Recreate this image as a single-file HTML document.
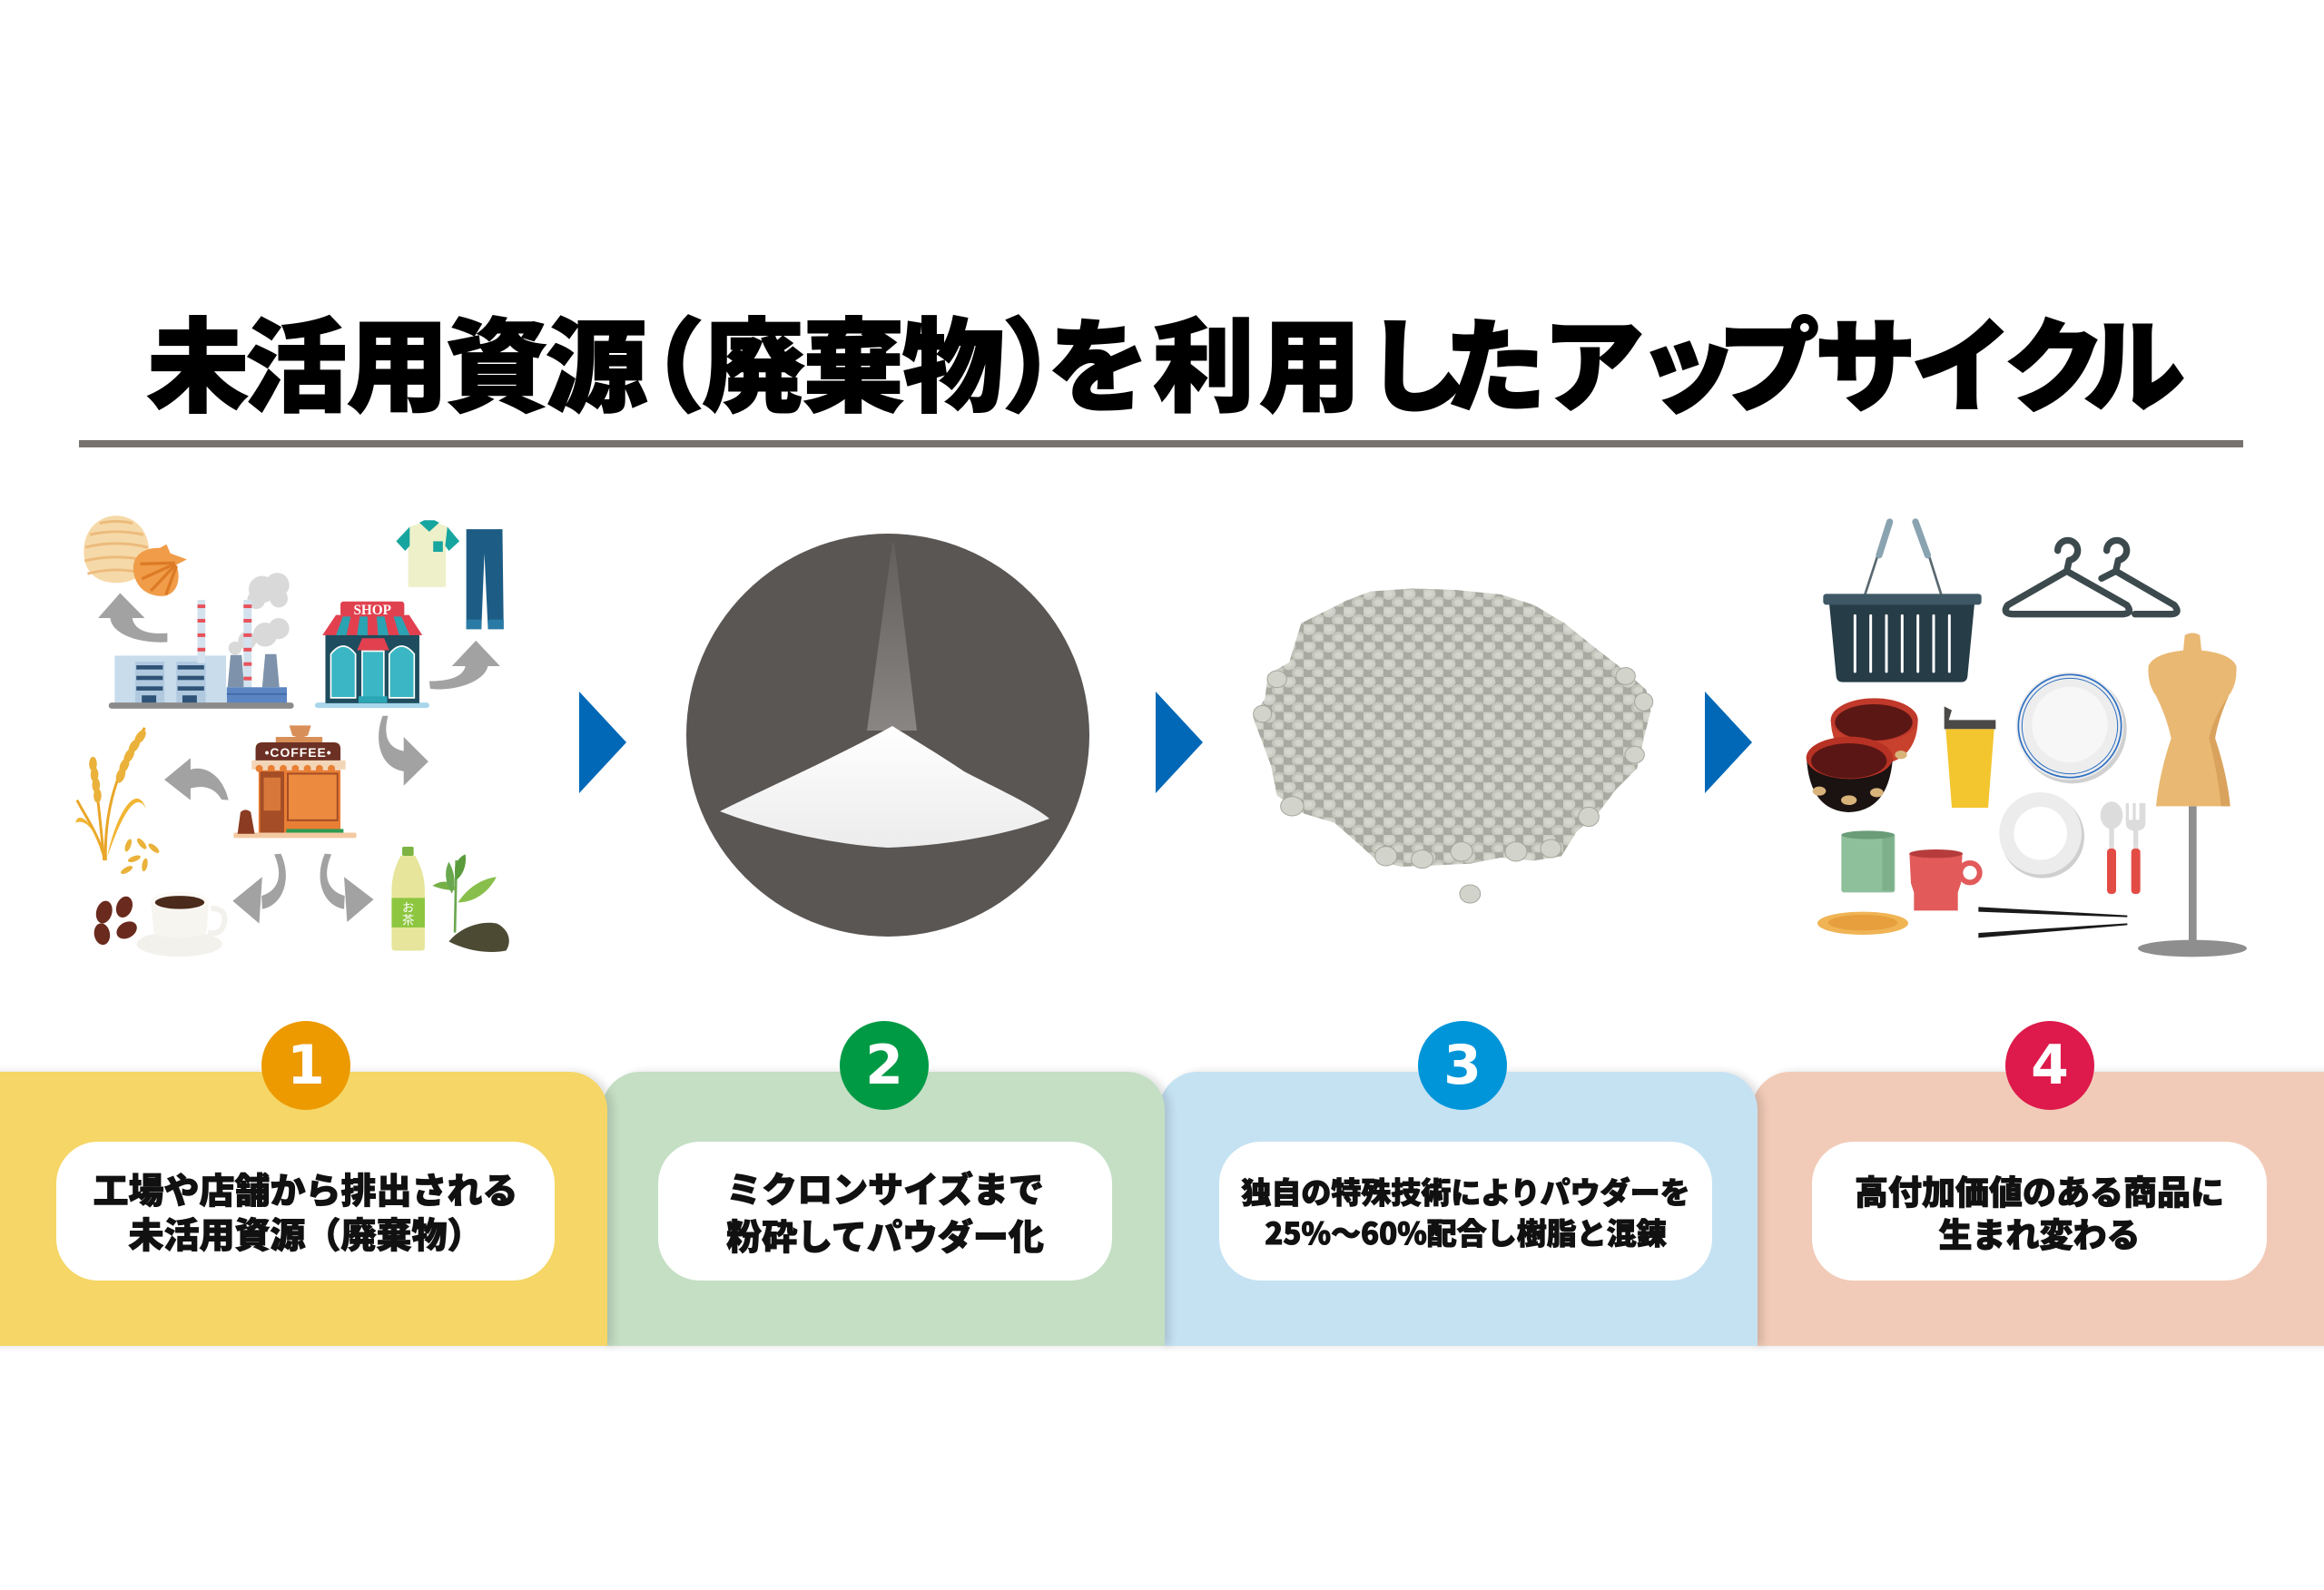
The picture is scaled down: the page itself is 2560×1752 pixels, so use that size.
<!DOCTYPE html>
<html lang="ja">
<head>
<meta charset="utf-8">
<style>
html,body{margin:0;padding:0;background:#fff;}
body{width:2560px;height:1752px;position:relative;overflow:hidden;font-family:"Liberation Sans","Noto Sans CJK JP",sans-serif;}
.abs{position:absolute;}
.title{position:absolute;left:162px;top:340px;font-size:112px;line-height:112px;white-space:nowrap;font-weight:900;color:#000;-webkit-text-stroke:2px #000;font-family:"Noto Sans CJK JP","Liberation Sans",sans-serif;}
.rule{position:absolute;left:87px;top:485px;width:2384px;height:8px;background:#77726e;}
.panel{position:absolute;top:1181px;height:302px;border-radius:42px 42px 0 0;box-shadow:6px 0 9px rgba(0,0,0,0.13);}
.badge{position:absolute;top:1125px;width:98px;height:98px;border-radius:50%;color:#fff;font-family:"DejaVu Sans","Liberation Sans",sans-serif;font-weight:bold;font-size:60px;line-height:98px;text-align:center;}
.pill{position:absolute;top:1258px;height:153px;background:#fff;border-radius:46px;display:flex;align-items:center;justify-content:center;text-align:center;font-family:"Noto Sans CJK JP","Liberation Sans",sans-serif;font-weight:900;color:#111;-webkit-text-stroke:1px #111;white-space:nowrap;}
.arrow{position:absolute;width:0;height:0;border-top:56px solid transparent;border-bottom:56px solid transparent;border-left:52px solid #0068b6;top:762px;}
</style>
</head>
<body>

<div class="title"><span style="letter-spacing:-4px">未</span><span style="letter-spacing:0px">活</span><span style="letter-spacing:-3px">用</span><span style="letter-spacing:-2px">資</span><span style="letter-spacing:-49px">源</span><span style="letter-spacing:-2px">（廃棄物</span><span style="letter-spacing:-62px">）</span><span style="letter-spacing:4px">を</span><span style="letter-spacing:5px">利用</span><span style="letter-spacing:-25px">し</span><span style="letter-spacing:-4px">た</span><span style="letter-spacing:-8px">ア</span><span style="letter-spacing:-23px">ッ</span><span style="letter-spacing:-5px">プ</span><span style="letter-spacing:-6px">サ</span><span style="letter-spacing:-10px">イ</span><span style="letter-spacing:-24px">ク</span><span>ル</span></div>
<div class="rule"></div>

<!-- Panel 1 illustration -->
<svg class="abs" style="left:60px;top:550px;overflow:visible" width="520" height="520" viewBox="0 0 1568 1568">
  <path d="M98,185 C92,100 150,55 205,55 C262,55 318,100 314,185 C310,250 262,278 205,278 C148,278 102,250 98,185Z" fill="#f6d9a8"/>
  <g stroke="#ecbb7c" stroke-width="9" fill="none">
    <path d="M150,80 Q205,68 260,80"/><path d="M118,118 Q205,98 295,118"/><path d="M102,160 Q205,135 310,160"/><path d="M100,205 Q205,180 312,205"/><path d="M110,248 Q205,222 302,248"/>
  </g>
  <path d="M262,235 C258,185 300,160 350,162 L372,150 L385,180 L440,200 L405,218 C425,275 400,325 352,322 C300,320 266,285 262,235Z" fill="#f09c48"/>
  <g stroke="#dd7a26" stroke-width="10" fill="none"><path d="M400,212 L285,215"/><path d="M400,215 L290,265"/><path d="M402,218 L320,305"/><path d="M405,222 L370,318"/></g>
  <g fill="#a3a2a2">
    <path d="M218,312 L145,395 L300,395Z"/>
    <path d="M185,393 C190,450 280,480 375,475 L375,445 C320,450 265,440 258,393Z"/>
    <path d="M1400,470 L1320,555 L1480,555Z"/>
    <path d="M1440,553 C1430,610 1320,640 1248,630 L1245,605 C1310,605 1360,590 1365,553Z"/>
    <path d="M365,932 L452,860 L452,1000Z"/>
    <path d="M448,900 C500,880 560,920 578,1000 L555,998 C530,955 490,950 448,962Z"/>
    <path d="M1160,790 L1242,872 L1160,952Z"/>
    <path d="M1108,720 C1090,790 1110,830 1165,838 L1165,905 C1080,895 1060,800 1090,720Z"/>
    <path d="M592,1335 L690,1255 L680,1410Z"/>
    <path d="M730,1180 C760,1250 745,1300 688,1318 L690,1362 C760,1350 790,1260 752,1178Z"/>
    <path d="M1060,1330 L962,1255 L972,1405Z"/>
    <path d="M920,1180 C890,1250 905,1300 964,1318 L962,1362 C890,1350 862,1260 898,1178Z"/>
  </g>
  <circle cx="690" cy="300" r="45" fill="#d9d9d9"/><circle cx="740" cy="285" r="40" fill="#d9d9d9"/><circle cx="670" cy="335" r="30" fill="#d9d9d9"/><circle cx="745" cy="330" r="30" fill="#d9d9d9"/>
  <circle cx="700" cy="450" r="40" fill="#d9d9d9"/><circle cx="745" cy="430" r="35" fill="#d9d9d9"/><circle cx="640" cy="470" r="30" fill="#d9d9d9"/><circle cx="600" cy="495" r="22" fill="#d9d9d9"/>
  <rect x="200" y="520" width="370" height="158" fill="#c8dcec"/>
  <rect x="268" y="540" width="97" height="138" fill="#b0c9df"/>
  <rect x="405" y="540" width="97" height="138" fill="#b0c9df"/>
  <g fill="#2e5377">
    <rect x="272" y="552" width="88" height="14"/><rect x="272" y="587" width="88" height="14"/><rect x="272" y="622" width="88" height="14"/><rect x="290" y="652" width="48" height="26"/>
    <rect x="409" y="552" width="88" height="14"/><rect x="409" y="587" width="88" height="14"/><rect x="409" y="622" width="88" height="14"/><rect x="425" y="652" width="48" height="26"/>
  </g>
  <rect x="475" y="335" width="26" height="210" fill="#d3e2ee"/>
  <g fill="#e8525c"><rect x="475" y="350" width="26" height="12"/><rect x="475" y="398" width="26" height="12"/><rect x="475" y="446" width="26" height="12"/><rect x="475" y="494" width="26" height="12"/></g>
  <path d="M575,625 L585,518 L622,518 L630,625Z" fill="#7e93ab"/>
  <path d="M690,625 L700,515 L737,515 L747,625Z" fill="#7e93ab"/>
  <rect x="628" y="335" width="27" height="292" fill="#d3e2ee"/>
  <g fill="#e8525c"><rect x="628" y="350" width="27" height="12"/><rect x="628" y="398" width="27" height="12"/><rect x="628" y="446" width="27" height="12"/><rect x="628" y="494" width="27" height="12"/><rect x="628" y="542" width="27" height="12"/><rect x="628" y="590" width="27" height="12"/></g>
  <rect x="572" y="625" width="200" height="53" fill="#5b85c2"/>
  <rect x="572" y="645" width="200" height="5" fill="#3e67a6"/>
  <rect x="180" y="676" width="615" height="20" rx="10" fill="#8b8b8b"/>
  <rect x="865" y="676" width="380" height="18" rx="9" fill="#a9d6ea"/>
  <rect x="900" y="450" width="312" height="228" fill="#1d4d5e"/>
  <path d="M890,452 L935,385 L1178,385 L1222,452Z" fill="#e2404f"/>
  <g fill="#2aa3b3"><path d="M935,452 L960,385 L985,385 L970,452Z"/><path d="M1005,452 L1015,385 L1040,385 L1040,452Z"/><path d="M1075,452 L1070,385 L1095,385 L1110,452Z"/><path d="M1145,452 L1125,385 L1150,385 L1180,452Z"/></g>
  <rect x="950" y="340" width="212" height="50" rx="10" fill="#e0414f"/>
  <text x="1056" y="383" font-size="46" font-weight="bold" fill="#fff" text-anchor="middle" font-family="Liberation Serif">SHOP</text>
  <path d="M918,660 L918,515 Q959,462 1000,515 L1000,660Z" fill="#3bb6c4" stroke="#fff" stroke-width="5"/>
  <path d="M1112,660 L1112,515 Q1153,462 1195,515 L1195,660Z" fill="#3bb6c4" stroke="#fff" stroke-width="5"/>
  <rect x="1022" y="505" width="72" height="155" fill="#3bb6c4" stroke="#fff" stroke-width="5"/>
  <path d="M1005,502 L1022,462 L1095,462 L1112,502Z" fill="#e2404f"/>
  <rect x="1010" y="655" width="95" height="22" fill="#2ba6b5"/>
  <path d="M1180,92 L1220,78 L1270,78 L1305,92 L1345,140 L1310,170 L1300,155 L1300,292 L1175,292 L1175,155 L1165,170 L1135,140Z" fill="#eef0c9"/>
  <path d="M1180,92 L1135,140 L1165,172 L1180,155Z" fill="#17a59f"/>
  <path d="M1305,92 L1345,140 L1310,172 L1298,155Z" fill="#17a59f"/>
  <path d="M1212,78 L1245,108 L1278,78 L1262,70 L1228,70Z" fill="#17a59f"/>
  <rect x="1258" y="140" width="32" height="35" fill="#17a59f"/>
  <path d="M1368,100 L1488,100 L1492,432 L1440,432 L1428,180 L1418,432 L1368,432Z" fill="#1d5c84"/>
  <rect x="1368" y="400" width="50" height="32" fill="#2a7aa6"/><rect x="1440" y="400" width="52" height="32" fill="#2a7aa6"/>
  <path d="M780,752 L852,752 L842,785 Q815,797 790,785Z" fill="#d98f58"/>
  <rect x="735" y="790" width="155" height="20" fill="#d98f58"/>
  <path d="M668,872 L668,830 Q668,808 690,808 L928,808 Q950,808 950,830 L950,872Z" fill="#6c3024"/>
  <text x="810" y="857" font-size="42" fill="#fff" text-anchor="middle" font-family="Liberation Sans" font-weight="bold" letter-spacing="3">•COFFEE•</text>
  <rect x="655" y="868" width="312" height="30" fill="#f3d6b8"/>
  <g fill="#e97f35"><circle cx="680" cy="895" r="12"/><circle cx="720" cy="895" r="12"/><circle cx="760" cy="895" r="12"/><circle cx="800" cy="895" r="12"/><circle cx="840" cy="895" r="12"/><circle cx="880" cy="895" r="12"/><circle cx="920" cy="895" r="12"/></g>
  <rect x="678" y="900" width="272" height="210" fill="#e97f35"/>
  <rect x="683" y="905" width="80" height="205" fill="#a44d26"/>
  <rect x="695" y="925" width="56" height="110" fill="#d7773a"/>
  <rect x="775" y="912" width="165" height="155" fill="#ec8a3f" stroke="#a44d26" stroke-width="6"/>
  <rect x="770" y="1096" width="190" height="14" fill="#2c9a50"/>
  <rect x="595" y="1108" width="408" height="18" rx="6" fill="#f4c9a2"/>
  <path d="M608,1112 L618,1040 Q635,1025 652,1040 L665,1112Z" fill="#8a3b22"/>
  <g stroke="#e9a628" stroke-width="9" fill="none">
    <path d="M170,1200 C165,1050 200,900 300,760"/><path d="M165,1200 C150,1050 140,950 125,860"/><path d="M170,1200 C140,1100 100,1050 75,1000"/>
  </g>
  <path d="M160,1190 C140,1080 80,1030 70,1075 C110,1060 140,1110 160,1190Z" fill="#f1b533"/>
  <path d="M175,1190 C200,1060 270,930 305,1030 C270,960 220,1060 175,1190Z" fill="#f1b533"/>
  <g fill="#eab23a">
    <ellipse cx="285" cy="790" rx="14" ry="26" transform="rotate(35 285 790)"/><ellipse cx="265" cy="820" rx="14" ry="26" transform="rotate(35 265 820)"/><ellipse cx="248" cy="852" rx="14" ry="26" transform="rotate(30 248 852)"/><ellipse cx="232" cy="885" rx="14" ry="26" transform="rotate(25 232 885)"/><ellipse cx="220" cy="918" rx="14" ry="26" transform="rotate(20 220 918)"/>
    <ellipse cx="128" cy="880" rx="13" ry="24"/><ellipse cx="133" cy="915" rx="13" ry="24"/><ellipse cx="138" cy="950" rx="13" ry="24"/><ellipse cx="143" cy="985" rx="13" ry="24"/>
    <ellipse cx="245" cy="1150" rx="9" ry="22" transform="rotate(20 245 1150)"/><ellipse cx="290" cy="1145" rx="9" ry="22" transform="rotate(-40 290 1145)"/><ellipse cx="330" cy="1160" rx="9" ry="22" transform="rotate(-50 330 1160)"/><ellipse cx="265" cy="1195" rx="9" ry="22" transform="rotate(70 265 1195)"/><ellipse cx="240" cy="1232" rx="9" ry="22" transform="rotate(60 240 1232)"/><ellipse cx="300" cy="1215" rx="9" ry="22" transform="rotate(10 300 1215)"/>
  </g>
  <g fill="#6a2a1e"><ellipse cx="165" cy="1372" rx="26" ry="38" transform="rotate(15 165 1372)"/><ellipse cx="232" cy="1355" rx="26" ry="36" transform="rotate(20 232 1355)"/><ellipse cx="158" cy="1445" rx="26" ry="36" transform="rotate(-10 158 1445)"/><ellipse cx="240" cy="1432" rx="26" ry="36" transform="rotate(60 240 1432)"/></g>
  <ellipse cx="415" cy="1478" rx="142" ry="42" fill="#f3f1ec"/>
  <path d="M520,1360 Q580,1360 560,1420 Q545,1450 510,1440" fill="none" stroke="#f3f1ec" stroke-width="18"/>
  <path d="M320,1335 L330,1440 Q415,1480 505,1440 L512,1335Z" fill="#f7f5f0"/>
  <ellipse cx="416" cy="1335" rx="96" ry="30" fill="#fbfaf7"/>
  <ellipse cx="416" cy="1340" rx="82" ry="22" fill="#4a2a1a"/>
  <rect x="1155" y="1155" width="38" height="30" rx="5" fill="#7cb342"/>
  <path d="M1150,1185 L1198,1185 Q1230,1240 1230,1300 L1230,1490 Q1230,1500 1220,1500 L1130,1500 Q1120,1500 1120,1490 L1120,1300 Q1120,1240 1150,1185Z" fill="#e6e59b"/>
  <rect x="1120" y="1325" width="110" height="98" fill="#8dc63f"/>
  <text x="1175" y="1370" font-size="40" fill="#fff" text-anchor="middle" font-family="Noto Sans CJK JP, sans-serif">お</text>
  <text x="1175" y="1412" font-size="40" fill="#fff" text-anchor="middle" font-family="Noto Sans CJK JP, sans-serif">茶</text>
  <path d="M1330,1440 L1335,1200" stroke="#6aa84f" stroke-width="8" fill="none"/>
  <path d="M1335,1300 C1280,1300 1250,1280 1255,1285 C1290,1260 1330,1270 1335,1300Z" fill="#76b148"/>
  <path d="M1335,1265 C1320,1220 1340,1190 1365,1180 C1370,1220 1355,1250 1335,1265Z" fill="#5a9b3c"/>
  <path d="M1340,1340 C1380,1280 1430,1260 1468,1255 C1440,1310 1390,1340 1340,1340Z" fill="#88bf4c"/>
  <path d="M1320,1310 C1290,1260 1300,1225 1310,1205 C1330,1240 1335,1280 1320,1310Z" fill="#6aa84f"/>
  <path d="M1310,1470 C1350,1420 1420,1400 1470,1410 C1510,1430 1520,1470 1500,1500 C1450,1510 1380,1505 1310,1470Z" fill="#4d4a34"/>
</svg>

<div class="arrow" style="left:638px"></div>

<!-- Panel 2 powder circle -->
<svg class="abs" style="left:740px;top:570px" width="480" height="480" viewBox="0 0 480 480">
  <defs>
    <linearGradient id="spray" x1="0" y1="0" x2="0" y2="1">
      <stop offset="0" stop-color="#ffffff" stop-opacity="0.05"/>
      <stop offset="1" stop-color="#ffffff" stop-opacity="0.28"/>
    </linearGradient>
    <linearGradient id="pile" x1="0" y1="0" x2="0" y2="1">
      <stop offset="0" stop-color="#ffffff"/>
      <stop offset="1" stop-color="#ececec"/>
    </linearGradient>
  </defs>
  <circle cx="238" cy="240" r="222" fill="#5a5654"/>
  <path d="M243,28 L245,28 L270,235 L215,235Z" fill="url(#spray)"/>
  <path d="M243,230 C262,242 300,265 322,280 C360,300 395,315 416,332 C370,350 300,362 238,364 C170,360 100,342 53,324 C100,300 170,270 243,230Z" fill="url(#pile)"/>
</svg>

<div class="arrow" style="left:1273px"></div>

<!-- Panel 3 pellets -->
<svg class="abs" style="left:1370px;top:630px;overflow:visible" width="470" height="390" viewBox="0 0 1410 1170">
  <defs>
    <pattern id="pel" width="66" height="58" patternUnits="userSpaceOnUse">
      <rect width="66" height="58" fill="#a8a9a0"/>
      <ellipse cx="17" cy="15" rx="23" ry="20" fill="#cdcec5"/>
      <ellipse cx="50" cy="44" rx="23" ry="20" fill="#c4c5bb"/>
      <ellipse cx="50" cy="44" rx="14" ry="11" fill="#d3d4cb"/>
      <ellipse cx="17" cy="15" rx="13" ry="10" fill="#d6d7ce"/>
    </pattern>
  </defs>
  <path d="M340,95 L420,65 L560,55 L700,60 L850,75 L960,110 L1060,170 L1160,250 L1250,320 L1330,390 L1345,460 L1320,560 L1300,650 L1230,720 L1170,800 L1100,860 L1050,940 L960,955 L850,945 L750,965 L640,970 L520,975 L440,955 L380,900 L300,830 L200,800 L110,740 L90,640 L60,560 L30,480 L70,420 L80,340 L150,300 L190,170 L270,130 Z" fill="url(#pel)"/>
  <g fill="#d2d3ca" stroke="#a5a69d" stroke-width="3">
    <ellipse cx="110" cy="355" rx="32" ry="28"/><ellipse cx="62" cy="470" rx="30" ry="28"/><ellipse cx="160" cy="775" rx="38" ry="32"/><ellipse cx="1262" cy="345" rx="32" ry="28"/><ellipse cx="1322" cy="430" rx="30" ry="30"/><ellipse cx="1292" cy="605" rx="32" ry="28"/><ellipse cx="1140" cy="810" rx="34" ry="32"/><ellipse cx="470" cy="940" rx="36" ry="32"/><ellipse cx="590" cy="950" rx="36" ry="30"/><ellipse cx="748" cy="1065" rx="34" ry="30"/><ellipse cx="900" cy="925" rx="36" ry="32"/><ellipse cx="1015" cy="915" rx="34" ry="30"/><ellipse cx="720" cy="925" rx="36" ry="32"/>
  </g>
</svg>

<div class="arrow" style="left:1878px"></div>

<!-- Panel 4 products -->
<svg class="abs" style="left:1990px;top:560px;overflow:visible" width="500" height="500" viewBox="0 0 1500 1500">
  <line x1="190" y1="295" x2="255" y2="95" stroke="#5a6870" stroke-width="8"/>
  <line x1="448" y1="295" x2="385" y2="95" stroke="#5a6870" stroke-width="8"/>
  <line x1="240" y1="155" x2="275" y2="45" stroke="#8aa3b1" stroke-width="22" stroke-linecap="round"/>
  <line x1="400" y1="155" x2="360" y2="45" stroke="#8aa3b1" stroke-width="22" stroke-linecap="round"/>
  <path d="M75,315 L555,315 L532,555 Q530,575 510,575 L120,575 Q100,575 98,555Z" fill="#263c47"/>
  <rect x="55" y="283" width="523" height="36" rx="10" fill="#3f5866"/>
  <g stroke="#fff" stroke-width="9" stroke-linecap="round">
    <line x1="160" y1="355" x2="160" y2="540"/><line x1="212" y1="355" x2="212" y2="540"/><line x1="264" y1="355" x2="264" y2="540"/><line x1="316" y1="355" x2="316" y2="540"/><line x1="368" y1="355" x2="368" y2="540"/><line x1="420" y1="355" x2="420" y2="540"/><line x1="472" y1="355" x2="472" y2="540"/>
  </g>
  <g stroke="#3c4a4e" stroke-width="22" fill="none" stroke-linejoin="round" stroke-linecap="round">
    <path d="M830,140 A33,33 0 1 1 868,172 L860,208 L665,320 Q645,348 680,350 L1045,350 Q1080,348 1058,320 L860,208"/>
    <path d="M992,140 A33,33 0 1 1 1030,172 L1022,208 L975,232"/>
    <path d="M1022,208 L1215,320 Q1238,348 1205,350 L1085,350"/>
  </g>
  <path d="M80,700 Q85,840 225,850 Q365,840 368,700Z" fill="#c8412c"/>
  <ellipse cx="224" cy="700" rx="144" ry="72" fill="#c0392b"/>
  <ellipse cx="222" cy="708" rx="128" ry="60" fill="#5b1714"/>
  <path d="M0,825 Q10,1000 140,1005 Q272,1000 285,825Z" fill="#1b1212"/>
  <ellipse cx="142" cy="825" rx="143" ry="70" fill="#b73224"/>
  <ellipse cx="140" cy="835" rx="125" ry="58" fill="#5a1614"/>
  <g fill="#d8b37a"><ellipse cx="42" cy="935" rx="22" ry="15"/><ellipse cx="140" cy="965" rx="26" ry="16"/><ellipse cx="232" cy="940" rx="22" ry="15"/><ellipse cx="312" cy="815" rx="20" ry="14"/></g>
  <path d="M455,655 L480,668 L470,700 L625,700 L625,730 L455,730Z" fill="#4b4947"/>
  <path d="M460,730 L620,730 L600,990 L480,990Z" fill="#f3c52f"/>
  <circle cx="878" cy="730" r="180" fill="#d0d0d0"/>
  <circle cx="870" cy="720" r="178" fill="#ededed"/>
  <circle cx="870" cy="720" r="170" fill="none" stroke="#2d6fc3" stroke-width="5"/>
  <circle cx="870" cy="720" r="158" fill="none" stroke="#2d6fc3" stroke-width="3"/>
  <circle cx="870" cy="715" r="125" fill="#f7f7f7"/>
  <circle cx="780" cy="1085" r="138" fill="#cfcfcf"/>
  <circle cx="773" cy="1075" r="136" fill="#ececec"/>
  <circle cx="773" cy="1075" r="88" fill="#fff"/>
  <ellipse cx="1008" cy="1015" rx="37" ry="45" fill="#dcdcdc"/>
  <rect x="1000" y="1050" width="16" height="80" fill="#dcdcdc"/>
  <rect x="993" y="1125" width="30" height="150" rx="12" fill="#e34c45"/>
  <path d="M1055,975 L1065,975 L1065,1030 L1078,1030 L1078,975 L1088,975 L1088,1030 L1100,1030 L1100,975 L1120,975 L1120,1040 Q1120,1062 1096,1066 L1096,1130 L1080,1130 L1080,1066 Q1055,1062 1055,1040Z" fill="#dcdcdc"/>
  <rect x="1073" y="1125" width="30" height="150" rx="12" fill="#e34c45"/>
  <ellipse cx="1275" cy="1455" rx="180" ry="28" fill="#8e8e8e"/>
  <rect x="1263" y="985" width="26" height="465" fill="#8e8e8e"/>
  <path d="M1250,420 Q1275,405 1300,420 L1305,470 Q1400,480 1420,520 Q1425,580 1395,620 Q1360,700 1350,760 Q1390,880 1400,985 L1155,985 Q1165,880 1205,760 Q1190,690 1155,620 Q1125,580 1130,520 Q1150,480 1245,470Z" fill="#e9b872"/>
  <path d="M1395,620 Q1360,700 1350,760 Q1390,880 1400,985 L1370,985 Q1360,880 1330,760 Q1345,690 1395,620Z" fill="#d9a25d"/>
  <rect x="115" y="1075" width="177" height="195" rx="8" fill="#8fc09c"/>
  <rect x="250" y="1085" width="38" height="180" fill="#7eb08b"/>
  <ellipse cx="203" cy="1080" rx="88" ry="14" fill="#6a9c78"/>
  <circle cx="540" cy="1205" r="32" fill="none" stroke="#e25a5a" stroke-width="18"/>
  <path d="M340,1140 L515,1140 L510,1240 L500,1270 L500,1330 L355,1330 L355,1270 L345,1240Z" fill="#e25a5a"/>
  <ellipse cx="428" cy="1142" rx="88" ry="14" fill="#b63b3b"/>
  <ellipse cx="186" cy="1372" rx="150" ry="38" fill="#f0b454"/>
  <ellipse cx="186" cy="1370" rx="115" ry="26" fill="#e79f3e"/>
  <path d="M568,1318 L1060,1346 L1060,1352 L568,1334Z" fill="#1a1a1a"/>
  <path d="M568,1404 L1060,1372 L1060,1378 L568,1420Z" fill="#1a1a1a"/>
</svg>

<div class="panel" style="left:1930px;width:700px;background:#f2cbb8;"></div>
<div class="panel" style="left:1277px;width:659px;background:#c5e2f3;"></div>
<div class="panel" style="left:663px;width:620px;background:#c4dfc4;"></div>
<div class="panel" style="left:-60px;width:729px;background:#f5d666;"></div>

<div class="badge" style="left:288px;background:#ec9a00;">1</div>
<div class="badge" style="left:925px;background:#009a45;">2</div>
<div class="badge" style="left:1562px;background:#0095d9;">3</div>
<div class="badge" style="left:2209px;background:#dd1a4b;">4</div>

<div class="pill" style="left:62px;width:549px;font-size:39px;line-height:49px;">工場や店舗から排出される<br>未活用資源（廃棄物）</div>
<div class="pill" style="left:725px;width:500px;font-size:39px;line-height:52px;">ミクロンサイズまで<br>粉砕してパウダー化</div>
<div class="pill" style="left:1343px;width:543px;font-size:33px;line-height:45px;">独自の特殊技術によりパウダーを<br>25%〜60%配合し樹脂と混錬</div>
<div class="pill" style="left:1996px;width:501px;font-size:37px;line-height:47px;">高付加価値のある商品に<br>生まれ変わる</div>

</body>
</html>
